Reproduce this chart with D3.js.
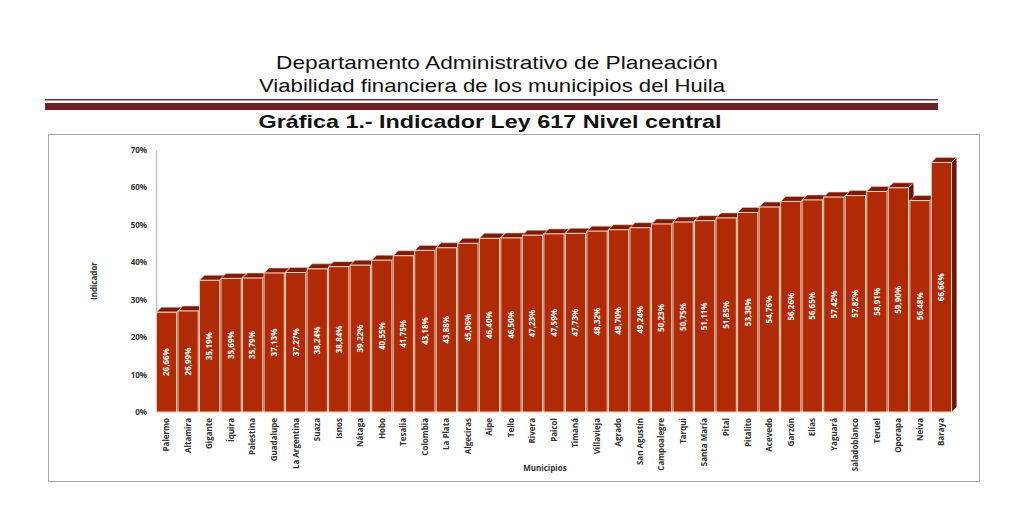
<!DOCTYPE html>
<html>
<head>
<meta charset="utf-8">
<script src="https://cdn.jsdelivr.net/npm/d3@7"></script>
<style>
  body { margin: 0; background: #fff; }
  text { font-family: "Open Sans", "Noto Sans", sans-serif; }
</style>
</head>
<body>
<script>
var width = 1024,
    height = 523;

// data
var municipios = ["Palermo", "Altamira", "Gigante", "Íquira", "Palestina", "Guadalupe",
    "La Argentina", "Suaza", "Isnos", "Nátaga", "Hobo", "Tesalia", "Colombia", "La Plata",
    "Algeciras", "Aipe", "Tello", "Rivera", "Paicol", "Timaná", "Villavieja", "Agrado",
    "San Agustín", "Campoalegre", "Tarqui", "Santa María", "Pital", "Pitalito", "Acevedo",
    "Garzón", "Elías", "Yaguará", "Saladoblanco", "Teruel", "Oporapa", "Neiva", "Baraya"];
var indicador = [26.66, 26.99, 35.19, 35.69, 35.79, 37.13, 37.27, 38.24, 38.84, 39.22,
    40.55, 41.75, 43.18, 43.88, 45.06, 46.40, 46.50, 47.23, 47.59, 47.73, 48.32, 48.70,
    49.24, 50.23, 50.75, 51.11, 51.85, 53.30, 54.76, 56.26, 56.65, 57.42, 57.82, 58.91,
    59.90, 56.48, 66.66];
var yTicks = [0, 10, 20, 30, 40, 50, 60, 70];

var svg = d3.select("body").append("svg")
    .attr("width", width)
    .attr("height", height);

// header
svg.append("text")
    .attr("x", 497).attr("y", 68.5)
    .attr("text-anchor", "middle")
    .attr("textLength", 442).attr("lengthAdjust", "spacingAndGlyphs")
    .style("font-family", "'Liberation Sans', Arial, sans-serif")
    .style("font-size", "18.5px").style("fill", "#111")
    .text("Departamento Administrativo de Planeación");
svg.append("text")
    .attr("x", 492).attr("y", 92)
    .attr("text-anchor", "middle")
    .attr("textLength", 466).attr("lengthAdjust", "spacingAndGlyphs")
    .style("font-family", "'Liberation Sans', Arial, sans-serif")
    .style("font-size", "18.5px").style("fill", "#111")
    .text("Viabilidad financiera de los municipios del Huila");

// double rule
svg.append("rect").attr("x", 45).attr("y", 99).attr("width", 893).attr("height", 1.5).attr("fill", "#7a2f35");
svg.append("rect").attr("x", 45).attr("y", 103).attr("width", 893).attr("height", 7).attr("fill", "#6b2228");

svg.append("text")
    .attr("x", 490).attr("y", 127.5)
    .attr("text-anchor", "middle")
    .attr("textLength", 463).attr("lengthAdjust", "spacingAndGlyphs")
    .style("font-family", "'Liberation Sans', Arial, sans-serif")
    .style("font-size", "19px").style("font-weight", "bold").style("fill", "#111")
    .text("Gráfica 1.- Indicador Ley 617 Nivel central");

// chart frame
svg.append("rect")
    .attr("x", 48.5).attr("y", 134.5).attr("width", 931).attr("height", 347)
    .attr("fill", "none").attr("stroke", "#a8a8a8").attr("stroke-width", 1);

var x = d3.scaleBand()
    .domain(municipios)
    .range([156, 952])
    .paddingInner(0.06)
    .paddingOuter(0.02);

var y = d3.scaleLinear()
    .domain([0, 70])
    .range([412, 150]);

var depth = 5;

// y axis
var yAxis = svg.append("g")
    .attr("transform", "translate(156,0)")
    .call(d3.axisLeft(y).tickValues(yTicks).tickSize(0).tickPadding(9)
        .tickFormat(function (d) { return d + "%"; }));
yAxis.select(".domain").attr("stroke", "#c4c4c4").attr("stroke-width", 1.5);
yAxis.selectAll("text")
    .style("font-size", "8px").style("font-weight", "bold").style("fill", "#333");

svg.append("text")
    .attr("transform", "translate(97,281) rotate(-90)")
    .attr("text-anchor", "middle")
    .style("font-size", "8px").style("font-weight", "bold").style("fill", "#333")
    .text("Indicador");

// bars with a little depth
var bars = svg.append("g").selectAll("g")
    .data(municipios)
    .enter().append("g");

bars.append("path")
    .attr("fill", "#6a1407")
    .attr("d", function (d, i) {
        var x1 = x(d) + x.bandwidth(), yt = y(indicador[i]), yb = y(0);
        return "M" + x1 + "," + yt + "L" + (x1 + depth) + "," + (yt - depth) +
            "L" + (x1 + depth) + "," + (yb - depth) + "L" + x1 + "," + yb + "Z";
    });

bars.append("path")
    .attr("fill", "#7e1a08")
    .attr("stroke", "#f3c8b0").attr("stroke-width", 0.6)
    .attr("d", function (d, i) {
        var x0 = x(d), x1 = x0 + x.bandwidth(), yt = y(indicador[i]);
        return "M" + x0 + "," + yt + "L" + (x0 + depth) + "," + (yt - depth) +
            "L" + (x1 + depth) + "," + (yt - depth) + "L" + x1 + "," + yt + "Z";
    });

bars.append("rect")
    .attr("x", function (d) { return x(d); })
    .attr("y", function (d, i) { return y(indicador[i]); })
    .attr("width", x.bandwidth())
    .attr("height", function (d, i) { return y(0) - y(indicador[i]); })
    .attr("fill", "#b02a06")
    .attr("stroke", "#f6d2bd").attr("stroke-width", 1);

var fmt = d3.format(".2f");
bars.append("text")
    .attr("transform", function (d, i) {
        var cx = x(d) + x.bandwidth() / 2,
            cy = (y(indicador[i]) + y(0)) / 2;
        return "translate(" + cx + "," + cy + ") rotate(-90)";
    })
    .attr("text-anchor", "middle")
    .attr("dy", "0.35em")
    .style("font-size", "8px").style("font-weight", "bold").style("fill", "#fff")
    .text(function (d, i) { return fmt(indicador[i]).replace(".", ",") + "%"; });

// x labels
svg.append("g").selectAll("text")
    .data(municipios)
    .enter().append("text")
    .attr("transform", function (d) {
        return "translate(" + (x(d) + x.bandwidth() / 2) + ",418) rotate(-90)";
    })
    .attr("text-anchor", "end")
    .attr("dy", "0.35em")
    .style("font-size", "8px").style("font-weight", "bold").style("fill", "#333")
    .text(function (d) { return d; });

svg.append("text")
    .attr("x", 545).attr("y", 471)
    .attr("text-anchor", "middle")
    .style("font-size", "8px").style("font-weight", "bold").style("fill", "#333")
    .text("Municipios");
</script>
</body>
</html>
